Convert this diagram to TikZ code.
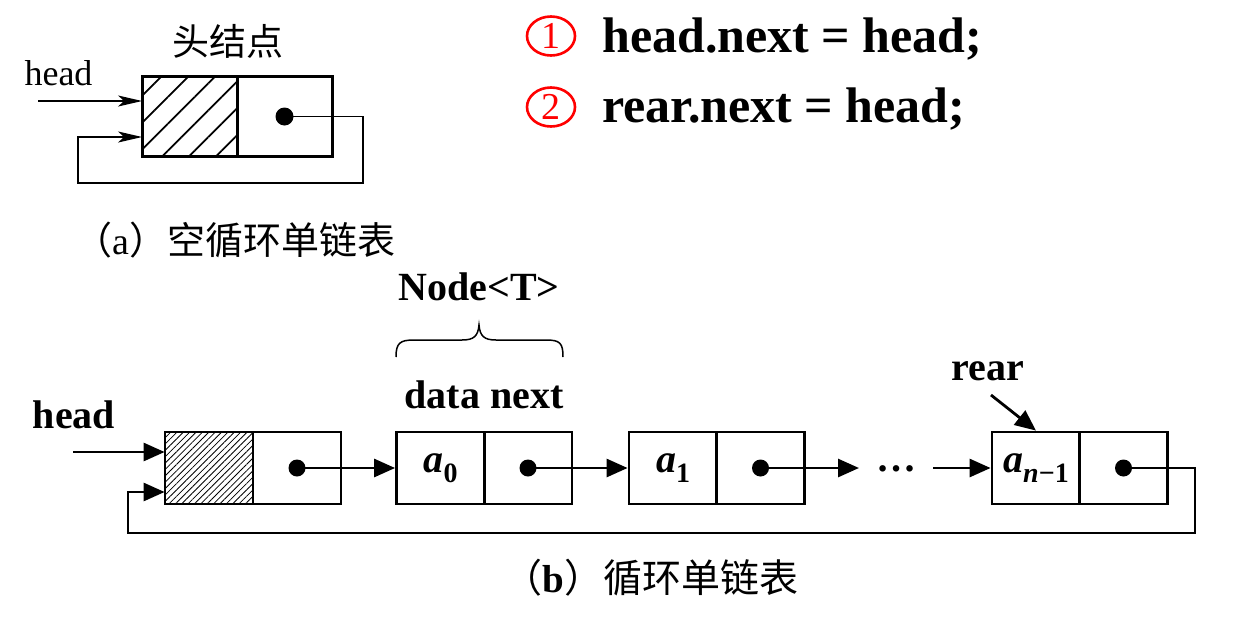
\documentclass[tikz,border=0pt]{standalone}
\usepackage{fontspec}
\setmainfont{Liberation Serif}
\newfontfamily\cjk{Noto Sans CJK SC}
\usetikzlibrary{arrows.meta,patterns.meta,shapes.geometric}
\begin{document}
\begin{tikzpicture}[x=1pt,y=-1pt,
  cellA/.style={draw,line width=2pt,minimum width=94pt,minimum height=79pt,inner sep=0pt},
  cellB/.style={draw,line width=2.8pt,minimum width=88pt,minimum height=72pt,inner sep=0pt},
  ptrA/.style={line width=1.8pt,-{Stealth[length=24pt,width=11pt,inset=6pt]}},
  ptrB/.style={line width=2.8pt,-{Triangle[length=21pt,width=18pt]}},
  boldlbl/.style={font=\fontsize{40}{48}\selectfont\bfseries,inner sep=0pt,anchor=base},
  code/.style={font=\fontsize{50}{58}\selectfont\bfseries,inner sep=0pt,anchor=base west},
  circ/.style={ellipse,draw=red,line width=2.6pt,text=red,minimum width=48pt,minimum height=39pt,inner sep=0pt,font=\fontsize{38}{40}\selectfont},
  captxt/.style={inner sep=0pt},
  celltxt/.style={font=\fontsize{40}{48}\selectfont\bfseries\itshape,inner sep=0pt}]
\useasboundingbox (0,0) rectangle (1235,641);

% ---------- (a) ----------
\node[cellA,pattern={Lines[angle=45,distance=19pt,line width=1.8pt]}] (ah) at (190,116.5) {};
\node[cellA] (an) at (284.5,116.5) {};
\draw[line width=2pt] (ah.north west) rectangle (an.south east);
\fill (an.center) circle (9pt);
\node[captxt,font=\fontsize{37}{42}\selectfont\cjk] (ttl) at (228,41) {头结点};
\node[font=\fontsize{36}{40}\selectfont,inner sep=0pt,anchor=base] (headA) at (58.5,85) {head};
\coordinate (hA) at (38,101);
\draw[ptrA] (hA) -- (hA -| ah.west);
\coordinate (ra) at (363,183);
\coordinate (la) at (78,137);
\draw[ptrA] (an.center) -| (ra) -| (la) -- (la -| ah.west);
\node[captxt,font=\fontsize{38}{42}\selectfont] (capA) at (235,240) {{\cjk （}a{\cjk ）空循环单链表}};

% ---------- code lines ----------
\node[circ] (c1) at (551,36) {1};
\node[circ] (c2) at (551,107) {2};
\node[code] (l1) at (602,52) {head.next = head;};
\node[code] (l2) at (602,122) {rear.next = head;};

% ---------- (b) ----------
\node[cellB,pattern={Lines[angle=45,distance=4.5pt,line width=0.8pt]}] (hd) at (209,468) {};
\node[cellB] (hn) at (297,468) {};
\node[cellB,celltxt] (d0) at (440.5,468) {a\raisebox{-0.25em}{\fontsize{28}{28}\selectfont\upshape 0}};
\node[cellB] (n0) at (528,468) {};
\node[cellB,celltxt] (d1) at (673,468) {a\raisebox{-0.25em}{\fontsize{28}{28}\selectfont\upshape 1}};
\node[cellB] (n1) at (760.5,468) {};
\node[cellB,celltxt] (dn) at (1036,468) {a\raisebox{-0.25em}{\fontsize{28}{28}\selectfont n\upshape −1}};
\node[cellB] (nn) at (1123.5,468) {};
\foreach \c in {hn,n0,n1,nn} {\fill (\c.center) circle (8.5pt);}

\node[boldlbl] (headB) at (74,428) {head};
\node[boldlbl] (nodeT) at (479,300) {Node<T>};
\node[boldlbl] (dnlbl) at (484,408) {data next};
\node[boldlbl] (rear) at (988,380) {rear};
\node[boldlbl,font=\fontsize{40}{48}\selectfont\bfseries] (dots) at (896,471) {…};

\draw[line width=1.5pt] (396,357) .. controls (396,343) and (400,340) .. (414,340)
  -- (462,340) .. controls (474,340) and (478,336) .. (479,325)
  .. controls (480,336) and (484,340) .. (496,340)
  -- (546,340) .. controls (560,340) and (563,343) .. (563,357);

\coordinate (hB) at (73,452);
\draw[ptrB] (hB) -- (hB -| hd.west);
\draw[ptrB] (hn.center) -- (d0.west);
\draw[ptrB] (n0.center) -- (d1.west);
\coordinate (e1) at (859,468);
\draw[ptrB] (n1.center) -- (e1);
\coordinate (s2) at (933,468);
\draw[ptrB] (s2) -- (dn.west);
\coordinate (rb) at (1195,533);
\coordinate (lb) at (128,492);
\draw[ptrB] (nn.center) -| (rb) -| (lb) -- (lb -| hd.west);
\coordinate (rs) at (991,395);
\draw[ptrB] (rs) -- (dn.north);

\node[captxt,font=\fontsize{39}{44}\selectfont] (capB) at (651,578) {{\cjk （}\textbf{b}{\cjk ）循环单链表}};
\end{tikzpicture}
\end{document}
